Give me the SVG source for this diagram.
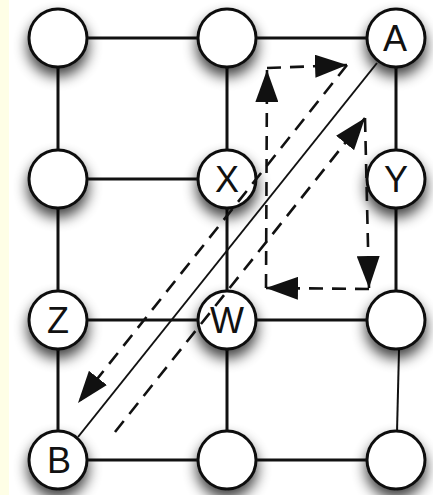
<svg xmlns="http://www.w3.org/2000/svg" width="433" height="495" viewBox="0 0 433 495">
  <style>
    .edge { stroke: #111; stroke-width: 3; fill: none; }
    .thin { stroke: #111; stroke-width: 2; fill: none; }
    .route { stroke: #111; stroke-width: 2.6; fill: none; stroke-dasharray: 14 9; }
    .node circle { fill: #fff; stroke: #111; stroke-width: 3; filter: url(#shadow); }
    .node text { font-family: "Liberation Sans", Arial, sans-serif; font-size: 36px; fill: #111; text-anchor: middle; }
  </style>
  <defs>
    <filter id="shadow" x="-60%" y="-60%" width="220%" height="240%">
      <feGaussianBlur in="SourceAlpha" stdDeviation="7"/>
      <feOffset dx="0" dy="8" result="blur"/>
      <feComponentTransfer>
        <feFuncA type="linear" slope="0.75"/>
      </feComponentTransfer>
      <feMerge>
        <feMergeNode/>
        <feMergeNode in="SourceGraphic"/>
      </feMerge>
    </filter>
    <marker id="head" markerUnits="userSpaceOnUse" markerWidth="32" markerHeight="23" refX="32" refY="11.5" orient="auto" viewBox="0 0 32 23">
      <path d="M0,0 L32,11.5 L0,23 Z" fill="#111"/>
    </marker>
  </defs>

  <!-- page background with the tinted left margin -->
  <rect x="0" y="0" width="433" height="495" fill="#fff"/>
  <rect x="0" y="0" width="9" height="495" fill="#fefee6"/>

  <!-- grid edges -->
  <g id="edges">
    <line class="edge" x1="58" y1="38" x2="396" y2="38"/>
    <line class="edge" x1="58" y1="179" x2="227" y2="179"/>
    <line class="edge" x1="58" y1="320" x2="396" y2="320"/>
    <line class="edge" x1="58" y1="460" x2="396" y2="460"/>
    <line class="edge" x1="58" y1="38" x2="58" y2="460"/>
    <line class="edge" x1="227" y1="38" x2="227" y2="460"/>
    <line class="edge" x1="396" y1="38" x2="396" y2="320"/>
    <line class="thin" x1="399" y1="350" x2="397" y2="432"/>
  </g>

  <!-- nodes -->
  <g id="n-r1c1" class="node"><circle cx="58" cy="38" r="29"/></g>
  <g id="n-r1c2" class="node"><circle cx="227" cy="38" r="29"/></g>
  <g id="n-A" class="node"><circle cx="396" cy="38" r="29"/><text x="395" y="51">A</text></g>
  <g id="n-r2c1" class="node"><circle cx="58" cy="179" r="29"/></g>
  <g id="n-X" class="node"><circle cx="227" cy="179" r="29"/><text x="227" y="192">X</text></g>
  <g id="n-Y" class="node"><circle cx="396" cy="179" r="29"/><text x="396" y="192">Y</text></g>
  <g id="n-Z" class="node"><circle cx="58" cy="320" r="29"/><text x="58" y="333">Z</text></g>
  <g id="n-W" class="node"><circle cx="227" cy="320" r="29"/><text x="227" y="333">W</text></g>
  <g id="n-r3c3" class="node"><circle cx="396" cy="320" r="29"/></g>
  <g id="n-B" class="node"><circle cx="58" cy="460" r="29"/><text x="59" y="473">B</text></g>
  <g id="n-r4c2" class="node"><circle cx="227" cy="460" r="29"/></g>
  <g id="n-r4c3" class="node"><circle cx="396" cy="460" r="29"/></g>

  <!-- direct link A to B and the dashed detour routes -->
  <g id="connectors">
    <line class="thin" x1="377" y1="63" x2="78" y2="437"/>
    <line class="route" x1="115" y1="432" x2="365" y2="118" marker-end="url(#head)"/>
    <line class="route" x1="365" y1="118" x2="369" y2="288" marker-end="url(#head)"/>
    <line class="route" x1="369" y1="289" x2="266" y2="288" marker-end="url(#head)"/>
    <line class="route" x1="266" y1="288" x2="267" y2="70" marker-end="url(#head)"/>
    <line class="route" x1="267" y1="68" x2="347" y2="65" marker-end="url(#head)"/>
    <line class="route" x1="347" y1="65" x2="78" y2="403" marker-end="url(#head)"/>
  </g>
</svg>
